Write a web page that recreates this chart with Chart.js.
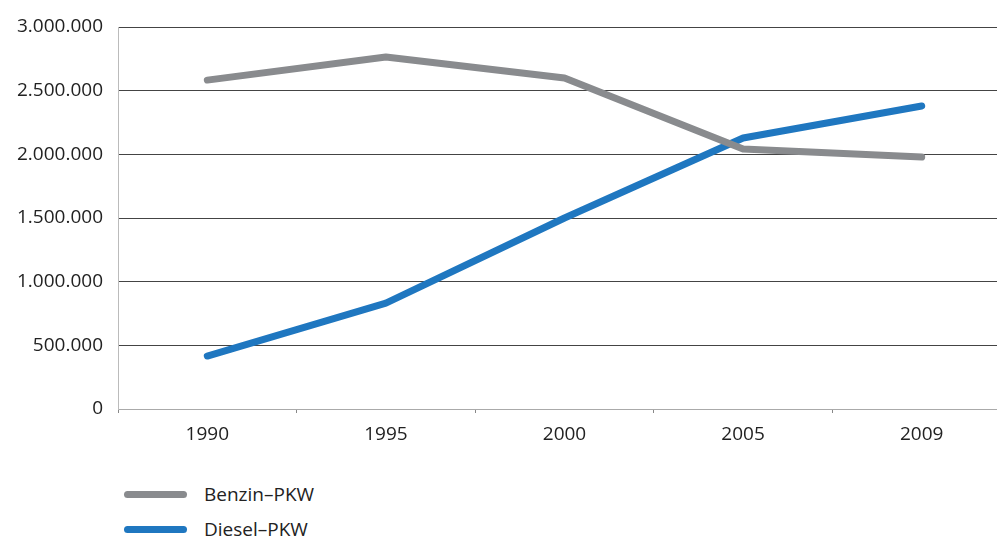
<!DOCTYPE html>
<html>
<head>
<meta charset="utf-8">
<script src="https://cdn.jsdelivr.net/npm/chart.js@4/dist/chart.umd.min.js"></script>
<style>
	body { margin: 0; background: #fff; overflow: hidden; width: 997px; height: 538px; position: relative; font-family: 'Open Sans', sans-serif; }
	#wrap { position: absolute; left: 0; top: 0; width: 1011px; height: 460px; }
	.leg { position: absolute; left: 124px; display: flex; align-items: center; font-size: 19px; color: #222; }
	.leg span.sw { display: inline-block; width: 63px; height: 7px; border-radius: 4px; margin-right: 17px; }
</style>
</head>
<body>
<div id="wrap"><canvas id="myChart"></canvas></div>
<div id="legend"></div>
<script>
	// data
	const years = ['1990', '1995', '2000', '2005', '2009'];
	const benzin = [2583000, 2764000, 2599000, 2042000, 1979000];
	const diesel = [416000, 832000, 1500000, 2128000, 2380000];
	const seriesNames = ['Benzin\u2013PKW', 'Diesel\u2013PKW'];
	const seriesColors = ['#898b8e', '#1f77c0'];

	//format like 3.000.000
	const fmt = (v) => String(v).replace(/\B(?=(\d{3})+(?!\d))/g, '.');

	const ctx = document.getElementById('myChart').getContext('2d');
	const myChart = new Chart(ctx, {
		type: 'line',
		data: {
			labels: years,
			datasets: [
				{ label: seriesNames[0], data: benzin, borderColor: seriesColors[0], borderWidth: 7, pointRadius: 0, borderCapStyle: 'round', borderJoinStyle: 'round', tension: 0 },
				{ label: seriesNames[1], data: diesel, borderColor: seriesColors[1], borderWidth: 7, pointRadius: 0, borderCapStyle: 'round', borderJoinStyle: 'round', tension: 0 }
			]
		},
		options: {
			responsive: true,
			maintainAspectRatio: false,
			animation: false,
			layout: { padding: { top: 27, right: 0, bottom: 0, left: 0 } },
			plugins: { legend: { display: false }, tooltip: { enabled: false } },
			scales: {
				x: {
					offset: true,
					grid: { offset: true, drawOnChartArea: false, tickLength: 4, color: '#888' },
					border: { color: '#aaa' },
					ticks: { color: '#222', font: { family: 'Open Sans', size: 19 }, padding: 10 },
					afterFit: (scale) => { scale.height = 51; }
				},
				y: {
					min: 0,
					max: 3000000,
					ticks: { stepSize: 500000, color: '#222', font: { family: 'Open Sans', size: 19 }, padding: 15, callback: (v) => fmt(v) },
					grid: { drawTicks: false, color: (c) => (c.tick && c.tick.value === 0 ? '#aaa' : '#444') },
					border: { color: '#bbb' },
					afterFit: (scale) => { scale.width = 118; }
				}
			}
		}
	});

	// legend below the chart
	const legend = document.getElementById('legend');
	const legendTops = [481, 516];
	seriesNames.forEach((name, i) => {
		const row = document.createElement('div');
		row.className = 'leg';
		row.style.top = legendTops[i] + 'px';
		row.innerHTML = '<span class="sw" style="background:' + seriesColors[i] + '"></span>' + name;
		legend.appendChild(row);
	});
</script>
</body>
</html>
